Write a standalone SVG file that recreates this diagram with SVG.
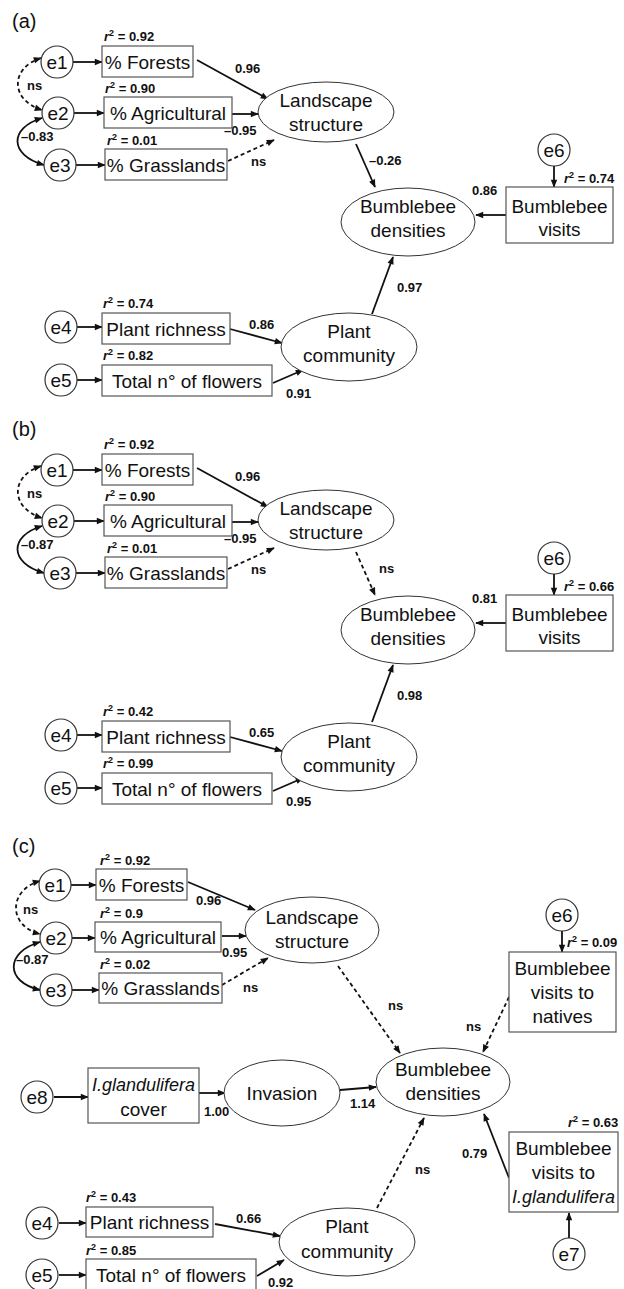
<svg xmlns="http://www.w3.org/2000/svg" width="624" height="1289" viewBox="0 0 624 1289">
<style>
.box{fill:#fff;stroke:#555;stroke-width:1.2}
.circ{fill:#fff;stroke:#333;stroke-width:1.2}
.ell{fill:#fff;stroke:#333;stroke-width:1}
.t{font-family:"Liberation Sans",Arial,sans-serif;font-size:19px;fill:#111;text-anchor:middle}
.it{font-style:italic}
.sm{font-size:18px}
.l{font-family:"Liberation Sans",Arial,sans-serif;font-size:13px;font-weight:bold;fill:#111}
.p{font-family:"Liberation Sans",Arial,sans-serif;font-size:20px;fill:#111}
.a{stroke:#111;stroke-width:1.8;fill:none;marker-end:url(#ah)}
.d{stroke-dasharray:4 3}
.b2{marker-start:url(#ah)}
.sup{font-size:9px}
</style>
<defs>
<marker id="ah" viewBox="0 0 10 10" refX="9" refY="5" markerWidth="9" markerHeight="8" markerUnits="userSpaceOnUse" orient="auto-start-reverse"><path d="M0,1 L10,5 L0,9 z" fill="#111"/></marker>
</defs>
<rect width="624" height="1289" fill="#fff"/>

<!-- ================= PANEL A ================= -->
<g id="panel-a">
<text class="p" x="12" y="28">(a)</text>
<g id="a-connectors">
<path class="a" d="M73,62 L102,62"/>
<path class="a" d="M74,113 L104,113"/>
<path class="a" d="M76,165 L105,165"/>
<path class="a d b2" d="M41,58 C10,68 10,100 42,110"/>
<path class="a b2" d="M42,118 C9,128 9,155 44,165"/>
<path class="a" d="M197,60 L268,99"/>
<path class="a" d="M232,114 L258,114"/>
<path class="a d" d="M228,161 L274,140"/>
<path class="a" d="M356,144 L375,187"/>
<path class="a" d="M554,166 L554,187"/>
<path class="a" d="M506,215 L476,215"/>
<path class="a" d="M77,327 L102,327"/>
<path class="a" d="M77,380 L102,380"/>
<path class="a" d="M230,329 L282,343"/>
<path class="a" d="M273,383 L303,370"/>
<path class="a" d="M372,314 L393,257"/>
</g>
<g id="a-labels">
<text class="l" x="27" y="90">ns</text>
<text class="l" x="21" y="141">–0.83</text>
<text class="l" x="235" y="73">0.96</text>
<text class="l" x="224" y="135">–0.95</text>
<text class="l" x="251" y="166">ns</text>
<text class="l" x="369" y="165">–0.26</text>
<text class="l" x="472" y="195">0.86</text>
<text class="l" x="249" y="329">0.86</text>
<text class="l" x="286" y="398">0.91</text>
<text class="l" x="397" y="292">0.97</text>
</g>
<g id="a-e1"><circle class="circ" cx="57" cy="62" r="16"/><text class="t" x="57" y="69">e1</text></g>
<g id="a-e2"><circle class="circ" cx="58" cy="113" r="16"/><text class="t" x="58" y="120">e2</text></g>
<g id="a-e3"><circle class="circ" cx="60" cy="165" r="16"/><text class="t" x="60" y="172">e3</text></g>
<g id="a-forests"><rect class="box" x="102" y="46" width="91" height="31"/><text class="t" x="147.5" y="68.5">% Forests</text>
<text class="l" x="104" y="41"><tspan class="it">r</tspan><tspan class="sup" dy="-5">2</tspan><tspan dy="5"> = 0.92</tspan></text></g>
<g id="a-agri"><rect class="box" x="104" y="97" width="128" height="31"/><text class="t" x="168" y="119.5">% Agricultural</text>
<text class="l" x="105" y="93"><tspan class="it">r</tspan><tspan class="sup" dy="-5">2</tspan><tspan dy="5"> = 0.90</tspan></text></g>
<g id="a-grass"><rect class="box" x="105" y="149" width="122" height="31"/><text class="t" x="166" y="171.5">% Grasslands</text>
<text class="l" x="107" y="145"><tspan class="it">r</tspan><tspan class="sup" dy="-5">2</tspan><tspan dy="5"> = 0.01</tspan></text></g>
<g id="a-landscape"><ellipse class="ell" cx="326" cy="112" rx="68" ry="30"/><text class="t" x="326" y="107">Landscape</text><text class="t" x="326" y="131">structure</text></g>
<g id="a-densities"><ellipse class="ell" cx="408" cy="222" rx="67" ry="34"/><text class="t" x="408" y="213">Bumblebee</text><text class="t" x="408" y="237">densities</text></g>
<g id="a-e6"><circle class="circ" cx="554" cy="150" r="16"/><text class="t" x="554" y="157">e6</text></g>
<g id="a-visits"><rect class="box" x="506" y="187" width="107" height="56"/><text class="t" x="559.5" y="213">Bumblebee</text><text class="t" x="559.5" y="236">visits</text>
<text class="l" x="564" y="183"><tspan class="it">r</tspan><tspan class="sup" dy="-5">2</tspan><tspan dy="5"> = 0.74</tspan></text></g>
<g id="a-e4"><circle class="circ" cx="61" cy="327" r="16"/><text class="t" x="61" y="334">e4</text></g>
<g id="a-e5"><circle class="circ" cx="61" cy="380" r="16"/><text class="t" x="61" y="387">e5</text></g>
<g id="a-richness"><rect class="box" x="102" y="313" width="128" height="31"/><text class="t" x="166" y="335.5">Plant richness</text>
<text class="l" x="103" y="308"><tspan class="it">r</tspan><tspan class="sup" dy="-5">2</tspan><tspan dy="5"> = 0.74</tspan></text></g>
<g id="a-flowers"><rect class="box" x="102" y="365" width="170" height="31"/><text class="t" x="187" y="387.5">Total n° of flowers</text>
<text class="l" x="103" y="360"><tspan class="it">r</tspan><tspan class="sup" dy="-5">2</tspan><tspan dy="5"> = 0.82</tspan></text></g>
<g id="a-plant"><ellipse class="ell" cx="349" cy="347" rx="68" ry="34"/><text class="t" x="349" y="338">Plant</text><text class="t" x="349" y="362">community</text></g>
</g>

<!-- ================= PANEL B ================= -->
<g id="panel-b" transform="translate(0,408)">
<text class="p" x="12" y="28">(b)</text>
<g id="b-connectors">
<path class="a" d="M73,62 L102,62"/>
<path class="a" d="M74,113 L104,113"/>
<path class="a" d="M76,165 L105,165"/>
<path class="a d b2" d="M41,58 C10,68 10,100 42,110"/>
<path class="a b2" d="M42,118 C9,128 9,155 44,165"/>
<path class="a" d="M197,60 L268,99"/>
<path class="a" d="M232,114 L258,114"/>
<path class="a d" d="M228,161 L274,140"/>
<path class="a d" d="M356,144 L375,187"/>
<path class="a" d="M554,166 L554,187"/>
<path class="a" d="M506,215 L476,215"/>
<path class="a" d="M77,327 L102,327"/>
<path class="a" d="M77,380 L102,380"/>
<path class="a" d="M230,329 L282,343"/>
<path class="a" d="M273,383 L303,370"/>
<path class="a" d="M372,314 L393,257"/>
</g>
<g id="b-labels">
<text class="l" x="27" y="90">ns</text>
<text class="l" x="21" y="141">–0.87</text>
<text class="l" x="235" y="73">0.96</text>
<text class="l" x="224" y="135">–0.95</text>
<text class="l" x="251" y="166">ns</text>
<text class="l" x="379" y="165">ns</text>
<text class="l" x="472" y="195">0.81</text>
<text class="l" x="249" y="329">0.65</text>
<text class="l" x="286" y="398">0.95</text>
<text class="l" x="397" y="292">0.98</text>
</g>
<g id="b-e1"><circle class="circ" cx="57" cy="62" r="16"/><text class="t" x="57" y="69">e1</text></g>
<g id="b-e2"><circle class="circ" cx="58" cy="113" r="16"/><text class="t" x="58" y="120">e2</text></g>
<g id="b-e3"><circle class="circ" cx="60" cy="165" r="16"/><text class="t" x="60" y="172">e3</text></g>
<g id="b-forests"><rect class="box" x="102" y="46" width="91" height="31"/><text class="t" x="147.5" y="68.5">% Forests</text>
<text class="l" x="104" y="41"><tspan class="it">r</tspan><tspan class="sup" dy="-5">2</tspan><tspan dy="5"> = 0.92</tspan></text></g>
<g id="b-agri"><rect class="box" x="104" y="97" width="128" height="31"/><text class="t" x="168" y="119.5">% Agricultural</text>
<text class="l" x="105" y="93"><tspan class="it">r</tspan><tspan class="sup" dy="-5">2</tspan><tspan dy="5"> = 0.90</tspan></text></g>
<g id="b-grass"><rect class="box" x="105" y="149" width="122" height="31"/><text class="t" x="166" y="171.5">% Grasslands</text>
<text class="l" x="107" y="145"><tspan class="it">r</tspan><tspan class="sup" dy="-5">2</tspan><tspan dy="5"> = 0.01</tspan></text></g>
<g id="b-landscape"><ellipse class="ell" cx="326" cy="112" rx="68" ry="30"/><text class="t" x="326" y="107">Landscape</text><text class="t" x="326" y="131">structure</text></g>
<g id="b-densities"><ellipse class="ell" cx="408" cy="222" rx="67" ry="34"/><text class="t" x="408" y="213">Bumblebee</text><text class="t" x="408" y="237">densities</text></g>
<g id="b-e6"><circle class="circ" cx="554" cy="150" r="16"/><text class="t" x="554" y="157">e6</text></g>
<g id="b-visits"><rect class="box" x="506" y="187" width="107" height="56"/><text class="t" x="559.5" y="213">Bumblebee</text><text class="t" x="559.5" y="236">visits</text>
<text class="l" x="564" y="183"><tspan class="it">r</tspan><tspan class="sup" dy="-5">2</tspan><tspan dy="5"> = 0.66</tspan></text></g>
<g id="b-e4"><circle class="circ" cx="61" cy="327" r="16"/><text class="t" x="61" y="334">e4</text></g>
<g id="b-e5"><circle class="circ" cx="61" cy="380" r="16"/><text class="t" x="61" y="387">e5</text></g>
<g id="b-richness"><rect class="box" x="102" y="313" width="128" height="31"/><text class="t" x="166" y="335.5">Plant richness</text>
<text class="l" x="103" y="308"><tspan class="it">r</tspan><tspan class="sup" dy="-5">2</tspan><tspan dy="5"> = 0.42</tspan></text></g>
<g id="b-flowers"><rect class="box" x="102" y="365" width="170" height="31"/><text class="t" x="187" y="387.5">Total n° of flowers</text>
<text class="l" x="103" y="360"><tspan class="it">r</tspan><tspan class="sup" dy="-5">2</tspan><tspan dy="5"> = 0.99</tspan></text></g>
<g id="b-plant"><ellipse class="ell" cx="349" cy="349" rx="68" ry="34"/><text class="t" x="349" y="340">Plant</text><text class="t" x="349" y="364">community</text></g>
</g>

<!-- ================= PANEL C ================= -->
<g id="panel-c">
<text class="p" x="12" y="853">(c)</text>
<g id="c-connectors">
<path class="a" d="M71,885 L96,885"/>
<path class="a" d="M72,938 L95,938"/>
<path class="a" d="M72,990 L99,990"/>
<path class="a d b2" d="M40,881 C8,890 8,926 40,934"/>
<path class="a b2" d="M40,942 C5,952 5,982 40,990"/>
<path class="a" d="M188,882 L255,910"/>
<path class="a" d="M222,936 L246,936"/>
<path class="a d" d="M222,985 L268,958"/>
<path class="a d" d="M338,966 L400,1053"/>
<path class="a" d="M562,931 L562,952"/>
<path class="a d" d="M509,997 L483,1052"/>
<path class="a" d="M54,1097 L88,1097"/>
<path class="a" d="M199,1093 L225,1093"/>
<path class="a" d="M340,1090 L376,1087"/>
<path class="a d" d="M377,1208 L424,1118"/>
<path class="a" d="M509,1178 L484,1114"/>
<path class="a" d="M569,1238 L569,1213"/>
<path class="a" d="M59,1223 L86,1223"/>
<path class="a" d="M59,1275 L86,1275"/>
<path class="a" d="M215,1224 L280,1236"/>
<path class="a" d="M257,1276 L284,1260"/>
</g>
<g id="c-labels">
<text class="l" x="23" y="914">ns</text>
<text class="l" x="16" y="964">–0.87</text>
<text class="l" x="196" y="905">0.96</text>
<text class="l" x="222" y="957">0.95</text>
<text class="l" x="243" y="992">ns</text>
<text class="l" x="388" y="1010">ns</text>
<text class="l" x="466" y="1031">ns</text>
<text class="l" x="204" y="1116">1.00</text>
<text class="l" x="350" y="1108">1.14</text>
<text class="l" x="415" y="1174">ns</text>
<text class="l" x="462" y="1158">0.79</text>
<text class="l" x="236" y="1223">0.66</text>
<text class="l" x="268" y="1287">0.92</text>
</g>
<g id="c-e1"><circle class="circ" cx="55" cy="885" r="16"/><text class="t" x="55" y="892">e1</text></g>
<g id="c-e2"><circle class="circ" cx="56" cy="938" r="16"/><text class="t" x="56" y="945">e2</text></g>
<g id="c-e3"><circle class="circ" cx="56" cy="990" r="16"/><text class="t" x="56" y="997">e3</text></g>
<g id="c-forests"><rect class="box" x="96" y="869" width="91" height="31"/><text class="t" x="141.5" y="891.5">% Forests</text>
<text class="l" x="100" y="865"><tspan class="it">r</tspan><tspan class="sup" dy="-5">2</tspan><tspan dy="5"> = 0.92</tspan></text></g>
<g id="c-agri"><rect class="box" x="95" y="922" width="126" height="30"/><text class="t" x="158" y="944">% Agricultural</text>
<text class="l" x="100" y="918"><tspan class="it">r</tspan><tspan class="sup" dy="-5">2</tspan><tspan dy="5"> = 0.9</tspan></text></g>
<g id="c-grass"><rect class="box" x="99" y="973" width="123" height="30"/><text class="t" x="160.5" y="995">% Grasslands</text>
<text class="l" x="100" y="969"><tspan class="it">r</tspan><tspan class="sup" dy="-5">2</tspan><tspan dy="5"> = 0.02</tspan></text></g>
<g id="c-landscape"><ellipse class="ell" cx="312" cy="930" rx="67" ry="33"/><text class="t" x="312" y="924">Landscape</text><text class="t" x="312" y="948">structure</text></g>
<g id="c-e6"><circle class="circ" cx="562" cy="915" r="16"/><text class="t" x="562" y="922">e6</text></g>
<g id="c-natives"><rect class="box" x="509" y="952" width="107" height="80"/><text class="t" x="562.5" y="975">Bumblebee</text><text class="t" x="562.5" y="999">visits to</text><text class="t" x="562.5" y="1023">natives</text>
<text class="l" x="567" y="947"><tspan class="it">r</tspan><tspan class="sup" dy="-5">2</tspan><tspan dy="5"> = 0.09</tspan></text></g>
<g id="c-e8"><circle class="circ" cx="37" cy="1097" r="16"/><text class="t" x="37" y="1104">e8</text></g>
<g id="c-cover"><rect class="box" x="88" y="1068" width="111" height="55"/><text class="t it sm" x="143.5" y="1091">I.glandulifera</text><text class="t" x="143.5" y="1116">cover</text></g>
<g id="c-invasion"><ellipse class="ell" cx="282" cy="1093" rx="58" ry="33"/><text class="t" x="282" y="1100">Invasion</text></g>
<g id="c-densities"><ellipse class="ell" cx="443" cy="1082" rx="67" ry="34"/><text class="t" x="443" y="1076">Bumblebee</text><text class="t" x="443" y="1100">densities</text></g>
<g id="c-iglvisits"><rect class="box" x="509" y="1132" width="109" height="80"/><text class="t" x="563.5" y="1155">Bumblebee</text><text class="t" x="563.5" y="1179">visits to</text><text class="t it sm" x="563.5" y="1203">I.glandulifera</text>
<text class="l" x="568" y="1127"><tspan class="it">r</tspan><tspan class="sup" dy="-5">2</tspan><tspan dy="5"> = 0.63</tspan></text></g>
<g id="c-e7"><circle class="circ" cx="569" cy="1254" r="16"/><text class="t" x="569" y="1261">e7</text></g>
<g id="c-e4"><circle class="circ" cx="42" cy="1223" r="16"/><text class="t" x="42" y="1230">e4</text></g>
<g id="c-e5"><circle class="circ" cx="42" cy="1275" r="16"/><text class="t" x="42" y="1282">e5</text></g>
<g id="c-richness"><rect class="box" x="86" y="1207" width="127" height="30"/><text class="t" x="149.5" y="1229">Plant richness</text>
<text class="l" x="86" y="1202"><tspan class="it">r</tspan><tspan class="sup" dy="-5">2</tspan><tspan dy="5"> = 0.43</tspan></text></g>
<g id="c-flowers"><rect class="box" x="86" y="1259" width="170" height="34"/><text class="t" x="171" y="1282">Total n° of flowers</text>
<text class="l" x="86" y="1255"><tspan class="it">r</tspan><tspan class="sup" dy="-5">2</tspan><tspan dy="5"> = 0.85</tspan></text></g>
<g id="c-plant"><ellipse class="ell" cx="347" cy="1242" rx="68" ry="34"/><text class="t" x="347" y="1233">Plant</text><text class="t" x="347" y="1258">community</text></g>
</g>
</svg>
